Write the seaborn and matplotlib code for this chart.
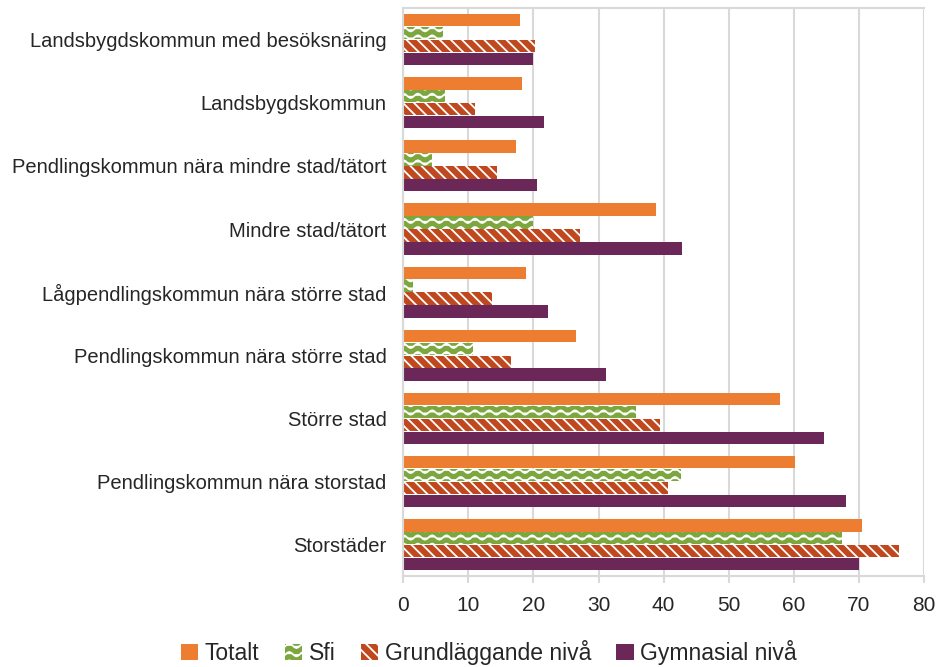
import warnings
import matplotlib
matplotlib.use("Agg")
from matplotlib import pyplot as plt
from matplotlib import hatch as mhatch
from matplotlib.path import Path
import numpy as np
import pandas as pd
import seaborn as sns

warnings.filterwarnings("ignore")

categories = [
    "Landsbygdskommun med besöksnäring",
    "Landsbygdskommun",
    "Pendlingskommun nära mindre stad/tätort",
    "Mindre stad/tätort",
    "Lågpendlingskommun nära större stad",
    "Pendlingskommun nära större stad",
    "Större stad",
    "Pendlingskommun nära storstad",
    "Storstäder",
]
series = ["Totalt", "Sfi", "Grundläggande nivå", "Gymnasial nivå"]
totalt = [18.0, 18.3, 17.4, 38.8, 18.8, 26.6, 57.9, 60.2, 70.4]
sfi = [6.1, 6.4, 4.4, 20.0, 1.5, 10.7, 35.7, 42.6, 67.4]
grund = [20.3, 11.0, 14.4, 27.2, 13.6, 16.5, 39.5, 40.6, 76.1]
gymn = [20.0, 21.7, 20.6, 42.8, 22.3, 31.2, 64.6, 68.0, 70.0]
colors = ["#ED7D31", "#7BA73E", "#C0481E", "#6B2758"]
hatches = ["", "~~", "\\\\\\", ""]


class WaveHatch(mhatch.HatchPatternBase):
    # wavy lines, like the Excel "wave" pattern fill
    npts = 57

    def __init__(self, hatch, density):
        self.num_lines = int(hatch.count("~") * density)
        self.num_vertices = self.num_lines * self.npts

    def set_vertices_and_codes(self, vertices, codes):
        xs = np.linspace(0, 1, self.npts)
        for i in range(self.num_lines):
            y0 = (i + 0.5) / self.num_lines
            sl = slice(i * self.npts, (i + 1) * self.npts)
            vertices[sl, 0] = xs
            vertices[sl, 1] = y0 + 0.022 * np.sin(2 * np.pi * 7 * xs)
            codes[sl] = Path.LINETO
            codes[i * self.npts] = Path.MOVETO


mhatch._hatch_types.append(WaveHatch)


def main():
    sns.set_style("white")
    plt.rcParams["font.family"] = ["Liberation Sans", "DejaVu Sans"]
    plt.rcParams["hatch.color"] = "white"
    plt.rcParams["hatch.linewidth"] = 1.3

    rows = []
    for name, vals in zip(series, [totalt, sfi, grund, gymn]):
        for cat, v in zip(categories, vals):
            rows.append({"kategori": cat, "serie": name, "värde": v})
    df = pd.DataFrame(rows)

    fig, ax = plt.subplots(figsize=(9.42, 6.67), dpi=100)
    fig.subplots_adjust(left=0.428, right=0.981, top=0.988, bottom=0.136)

    sns.barplot(data=df, y="kategori", x="värde", hue="serie", order=categories,
                hue_order=series, palette=colors, orient="h", width=0.82,
                gap=0.04, saturation=1, ax=ax, legend=False)

    for container, hatch, c in zip(ax.containers, hatches, colors):
        for bar in container:
            bar.set_hatch(hatch)
            bar.set_edgecolor("white" if hatch else c)
            bar.set_linewidth(0)

    ax.set_xlim(0, 80)
    ax.set_xticks(range(0, 81, 10))
    ax.set_xlabel("")
    ax.set_ylabel("")
    ax.xaxis.grid(True, color="#D9D9D9", linewidth=1.5)
    ax.set_axisbelow(True)
    for side in ["left", "bottom", "top"]:
        ax.spines[side].set_color("#D9D9D9")
        ax.spines[side].set_linewidth(1.5)
    ax.spines["right"].set_visible(False)
    ax.tick_params(axis="x", length=5, width=1.5, color="#D9D9D9",
                   labelsize=15, pad=9, direction="out", bottom=True)
    ax.tick_params(axis="y", length=0, labelsize=14.5, pad=12)

    handles = [plt.Rectangle((0, 0), 1, 1, facecolor=c, hatch=h,
                             edgecolor="white" if h else c, linewidth=0)
               for c, h in zip(colors, hatches)]
    fig.legend(handles, series, loc="lower center", ncol=4,
               bbox_to_anchor=(0.519, -0.028), frameon=False, fontsize=16.5,
               handlelength=0.75, handleheight=0.75, handletextpad=0.3,
               columnspacing=1.1)

    plt.savefig("out.png", dpi=100)


if __name__ == "__main__":
    main()
